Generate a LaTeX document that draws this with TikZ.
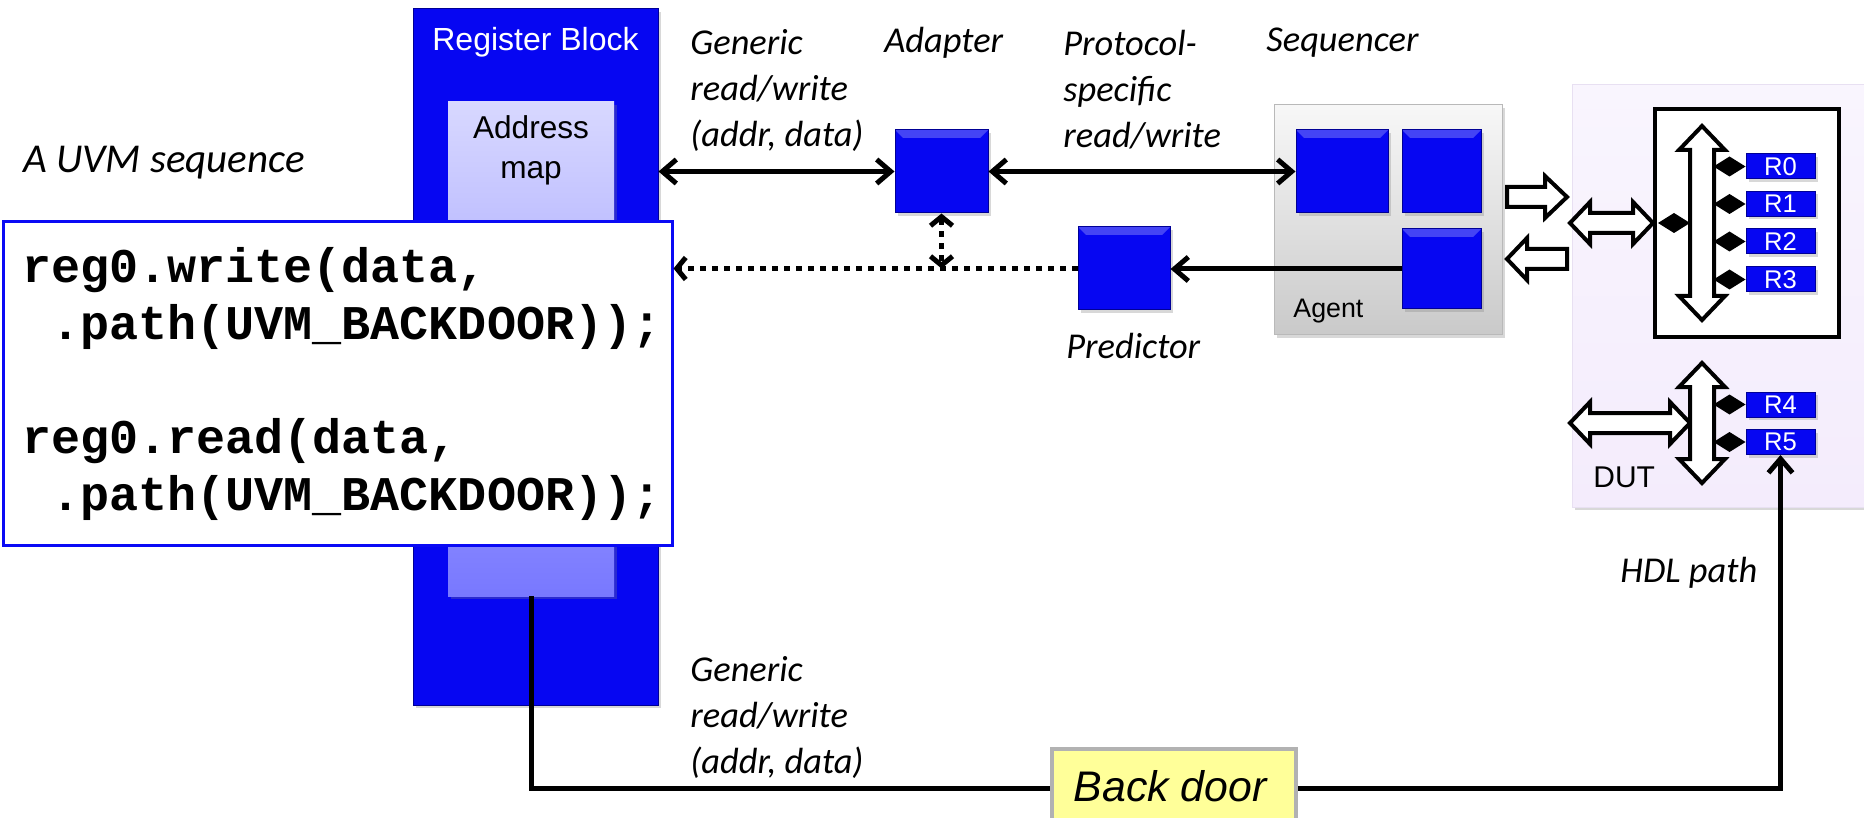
\documentclass[tikz,border=0pt]{standalone}
\usepackage{fontspec}
\setmainfont{Liberation Sans}
\newfontfamily\calfont{Carlito}
\newfontfamily\codefont{Liberation Mono}
\usetikzlibrary{arrows.meta,shadows,calc}
\definecolor{blk}{RGB}{6,6,242}
\definecolor{blkdark}{RGB}{0,0,150}
\definecolor{dutfill}{RGB}{244,236,252}
\definecolor{bdfill}{RGB}{255,255,153}
\definecolor{codeblue}{RGB}{10,10,245}
\tikzset{
  bb/.tip={Straight Barb[length=7pt,width=12pt]},
  sb/.tip={Straight Barb[length=4.5pt,width=11pt]},
  shad/.style={drop shadow={opacity=0.3,shadow xshift=1.5pt,shadow yshift=-1.5pt}},
  sq/.style={fill=blk, draw=blkdark, line width=0.5pt, inner sep=0pt, shad,
    path picture={\fill[white,opacity=0.25] (path picture bounding box.north west) -- (path picture bounding box.north east) -- ([xshift=-4pt,yshift=-4pt]path picture bounding box.north east) -- ([xshift=4pt,yshift=-4pt]path picture bounding box.north west) -- cycle;}},
  reg/.style={fill=blk, draw=blkdark, line width=0.5pt, inner sep=0pt, shad,
    minimum width=34.5pt, minimum height=12.5pt, text=white,
    font=\fontsize{12.8}{13}\selectfont},
  lbl/.style={font=\calfont\itshape\fontsize{18.2}{23}\selectfont, align=left, inner sep=0pt, anchor=west},
  sans/.style={inner sep=0pt},
  conn/.style={line width=2.5pt},
  dotline/.style={line width=2.5pt, dash pattern=on 3pt off 3pt},
  hollow/.style={draw=black, fill=white, line width=2pt, line join=miter},
  dia/.style={fill=black},
}
\begin{document}
\begin{tikzpicture}[x=0.5pt,y=-0.5pt]
\clip (0,0) rectangle (1864,818);
\fill[white] (0,0) rectangle (1864,818);

% Register block
\node[fill=blk, draw=blkdark, line width=0.5pt, shad, inner sep=0pt,
  minimum width=122.5pt, minimum height=348pt] (rb) at (535.5,357) {};
\node[sans, text=white, font=\fontsize{16}{18}\selectfont] (rbt) at (535.5,42) {Register Block};
\node[inner sep=0pt, shad, top color={rgb,255:red,216;green,216;blue,255},
  bottom color={rgb,255:red,120;green,120;blue,255},
  minimum width=83pt, minimum height=247pt] (am) at (531,349) {};
\node[sans, align=center, font=\fontsize{15.8}{20}\selectfont] (amt) at (531,150) {Address\\map};

% Code box
\node[draw=codeblue, line width=1.5pt, fill=white, inner sep=0pt,
  minimum width=334.5pt, minimum height=161.5pt] (code) at (337.5,383.5) {};
\node[inner sep=0pt, anchor=west, align=left,
  font=\codefont\bfseries\fontsize{24.2}{28.5}\selectfont] (codet) at (22,383.5)
  {reg0.write(data,\\\hspace*{0.6em}.path(UVM\_BACKDOOR));\\\mbox{}\\reg0.read(data,\\\hspace*{0.6em}.path(UVM\_BACKDOOR));};

% Adapter, predictor
\node[sq, minimum width=46.5pt, minimum height=41.5pt] (adp) at (941.5,171.5) {};
\node[sq, minimum width=46pt, minimum height=41.5pt] (pred) at (1124,268.5) {};

% Agent
\node[inner sep=0pt, shad, top color=gray!6, bottom color=gray!42, draw=gray!55, line width=0.5pt,
  minimum width=114pt, minimum height=115pt] (agent) at (1388,220) {};
\node[sq, minimum width=46pt, minimum height=41.5pt] (b1) at (1342,171.5) {};
\node[sq, minimum width=39.5pt, minimum height=41.5pt] (b2) at (1441.5,171.5) {};
\node[sq, minimum width=39.5pt, minimum height=40pt] (b3) at (1441.5,269) {};
\node[sans, anchor=west, font=\fontsize{13.4}{15}\selectfont] (agt) at (1293,311) {Agent};

% DUT
\node[inner sep=0pt, shad, top color={rgb,255:red,249;green,245;blue,254}, bottom color=dutfill,
  draw={rgb,255:red,232;green,224;blue,242}, line width=0.5pt,
  minimum width=146pt, minimum height=211pt] (dut) at (1718,296) {};
\node[draw=black, fill=white, line width=2pt, inner sep=0pt,
  minimum width=92pt, minimum height=114pt] (ibox) at (1747,223) {};
\node[sans, anchor=west, font=\fontsize{15}{17}\selectfont] (dutt) at (1593,477) {DUT};

\node[reg] (r0) at (1780.5,166.5) {R0};
\node[reg] (r1) at (1780.5,204) {R1};
\node[reg] (r2) at (1780.5,241.5) {R2};
\node[reg] (r3) at (1780.5,279.5) {R3};
\node[reg] (r4) at (1780.5,404.5) {R4};
\node[reg] (r5) at (1780.5,442) {R5};

% hollow arrows agent <-> DUT
\draw[hollow] (1507,187) -- (1545,187) -- (1545,176) -- (1567,197) -- (1545,218) -- (1545,207) -- (1507,207) -- cycle;
\draw[hollow] (1567,249) -- (1527,249) -- (1527,238) -- (1507,259) -- (1527,280) -- (1527,269) -- (1567,269) -- cycle;
% DUT double arrows
\draw[hollow] (1570,223) -- (1590,202) -- (1590,213) -- (1633,213) -- (1633,202) -- (1653,223) -- (1633,244) -- (1633,233) -- (1590,233) -- (1590,244) -- cycle;
\draw[hollow] (1570,423) -- (1590,402) -- (1590,413) -- (1670,413) -- (1670,402) -- (1690,423) -- (1670,444) -- (1670,433) -- (1590,433) -- (1590,444) -- cycle;
% buses
\draw[hollow] (1702,126) -- (1725,150) -- (1714,150) -- (1714,296) -- (1725,296) -- (1702,320) -- (1679,296) -- (1690,296) -- (1690,150) -- (1679,150) -- cycle;
\draw[hollow] (1702,363) -- (1725,387) -- (1714,387) -- (1714,459) -- (1725,459) -- (1702,483) -- (1679,459) -- (1690,459) -- (1690,387) -- (1679,387) -- cycle;
% diamonds
\fill[dia] (1658,223) -- (1674,213) -- (1690,223) -- (1674,233) -- cycle;
\foreach \r in {r0,r1,r2,r3,r4,r5}{
  \fill[dia] (\r.west) -- ++(-16,-10) -- ++(-16,10) -- ++(16,10) -- cycle;
}

% Back door
\node[fill=bdfill, draw=gray!60, line width=2pt, inner sep=0pt,
  minimum width=122pt, minimum height=39pt] (bd) at (1174,788) {};
\node[sans, font=\itshape\fontsize{21.4}{24}\selectfont] (bdt) at (1170,786) {Back door};

% labels
\node[lbl] (lg1) at (690,90) {Generic\\read/write\\(addr, data)};
\node[lbl] (ladp) at (884,43) {Adapter};
\node[lbl] (lpro) at (1063,90) {Protocol-\\specific\\read/write};
\node[lbl] (lseq) at (1266,43) {Sequencer};
\node[lbl] (lpred) at (1066,346) {Predictor};
\node[lbl] (lg2) at (690,717) {Generic\\read/write\\(addr, data)};
\node[lbl, font=\calfont\itshape\fontsize{20.5}{24}\selectfont] (luvm) at (23,163) {A UVM sequence};
\node[lbl] (lhdl) at (1620,573) {HDL path};

% connectors
\draw[conn, {bb}-{bb}] (rb.east |- adp.west) -- (adp.west);
\draw[conn, {bb}-{bb}] (adp.east) -- (adp.east -| b1.west);
\draw[conn, -{bb}] (b3.west) -- (b3.west -| pred.east);
\draw[dotline, -{sb}] (pred.west) -- (pred.west -| code.east);
\draw[dotline, {sb}-{sb}] (adp.south) -- (adp.south |- pred.west);
\draw[conn] (am.south) |- (bd.west);
\draw[conn, -{bb}] (bd.east) -| (r5.south);
\end{tikzpicture}
\end{document}
